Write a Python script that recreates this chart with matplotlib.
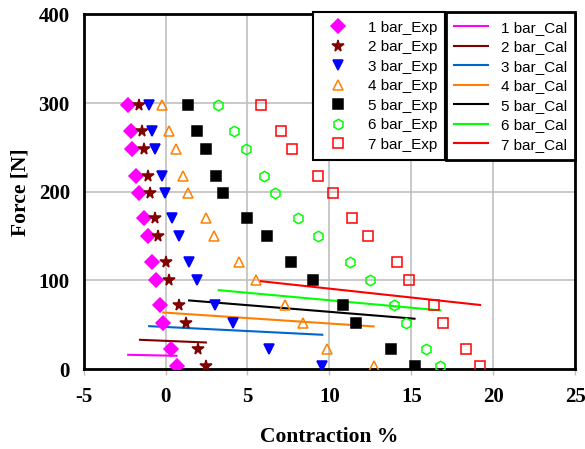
import numpy as np
import matplotlib.pyplot as plt

plt.rcParams['axes.unicode_minus'] = False

# force levels [N] shared by the experimental series
force = [298, 268, 248, 218, 199, 170, 150, 121, 101, 72, 52, 23, 4]

exp_1bar = [-2.32, -2.11, -2.03, -1.81, -1.65, -1.32, -1.06, -0.83, -0.61, -0.35, -0.14, 0.35, 0.71]
exp_2bar = [-1.61, -1.42, -1.32, -1.10, -0.96, -0.67, -0.45, 0.0, 0.24, 0.85, 1.26, 1.97, 2.46]
exp_3bar = [-1.02, -0.81, -0.65, -0.20, -0.02, 0.39, 0.81, 1.46, 1.89, 3.01, 4.09, 6.32, 9.57]
exp_4bar = [-0.20, 0.20, 0.65, 1.04, 1.36, 2.46, 2.95, 4.49, 5.53, 7.32, 8.39, 9.88, 12.70]
exp_5bar = [1.40, 1.93, 2.48, 3.07, 3.52, 4.98, 6.22, 7.66, 9.0, 10.85, 11.6, 13.78, 15.2]
exp_6bar = [3.23, 4.15, 4.90, 6.02, 6.71, 8.10, 9.31, 11.28, 12.46, 13.92, 14.65, 15.87, 16.78]
exp_7bar = [5.85, 7.07, 7.74, 9.29, 10.2, 11.38, 12.36, 14.1, 14.85, 16.36, 16.93, 18.35, 19.2]

# calculated lines: (x start, x end), (force start, force end)
cal_x = [(-2.28, 0.67), (-1.56, 2.46), (-1.0, 9.57), (-0.14, 12.70),
         (1.44, 15.2), (3.25, 16.77), (5.81, 19.2)]
cal_f = [(16.1, 15.0), (33.0, 30.0), (48.4, 38.7), (63.8, 48.1),
         (77.4, 56.8), (89.0, 66.2), (99.1, 72.3)]

labels = ['1 bar', '2 bar', '3 bar', '4 bar', '5 bar', '6 bar', '7 bar']
exp_all = [exp_1bar, exp_2bar, exp_3bar, exp_4bar, exp_5bar, exp_6bar, exp_7bar]

mk_color = ['#FF00FF', '#800000', '#0000FF', '#FF8000', '#000000', '#00FF00', '#FF0000']
ln_color = ['#FF00FF', '#800000', '#0066CC', '#FF8000', '#000000', '#00FF00', '#FF0000']
markers = ['D', '*', 'v', '^', 's', 'h', 's']
filled = [True, True, True, False, True, False, False]
msizes = [7, 8.5, 7.5, 7.5, 6.5, 7.5, 6.5]

fig = plt.figure(figsize=(5.85, 4.49), dpi=100)
ax = fig.add_axes([0.143, 0.178, 0.840, 0.790])

exp_handles = []
for i in range(7):
    fc = mk_color[i] if filled[i] else 'none'
    h, = ax.plot(exp_all[i], force, linestyle='none', marker=markers[i],
                 markersize=msizes[i], markerfacecolor=fc,
                 markeredgecolor=mk_color[i], markeredgewidth=1.1,
                 label=labels[i] + '_Exp', zorder=3)
    exp_handles.append(h)

cal_handles = []
for i in range(7):
    h, = ax.plot(cal_x[i], cal_f[i], color=ln_color[i], linewidth=1.5,
                 label=labels[i] + '_Cal', zorder=2)
    cal_handles.append(h)

ax.set_xlim(-5, 25)
ax.set_ylim(0, 400)
ax.set_xticks(np.arange(-5, 26, 5))
ax.set_yticks(np.arange(0, 401, 100))
ax.grid(True, color='#C0C0C0', linewidth=1.2)
ax.set_axisbelow(True)
for s in ax.spines.values():
    s.set_linewidth(2)
    s.set_color('black')
ax.tick_params(axis='x', direction='out', length=4, width=1, color='#C0C0C0', pad=9)
ax.tick_params(axis='y', length=0, pad=10)

for lab in ax.get_xticklabels() + ax.get_yticklabels():
    lab.set_fontfamily('Liberation Serif')
    lab.set_fontweight('bold')
    lab.set_fontsize(15)

ax.set_xlabel('Contraction %', fontfamily='Liberation Serif', fontweight='bold',
              fontsize=15.5, labelpad=14)
ax.set_ylabel('Force [N]', fontfamily='Liberation Serif', fontweight='bold',
              fontsize=15.5, labelpad=6)

leg_kw = dict(frameon=True, fancybox=False, edgecolor='black', framealpha=1,
              borderaxespad=0, labelspacing=0.36, borderpad=0.55,
              handlelength=2.2, prop={'family': 'Liberation Sans', 'size': 11})
leg1 = ax.legend(handles=exp_handles, loc='upper left',
                 bbox_to_anchor=(0.466, 1.006), handletextpad=0.85, **leg_kw)
leg1.get_frame().set_linewidth(1.5)
leg1.set_zorder(5)
ax.add_artist(leg1)
leg2 = ax.legend(handles=cal_handles, loc='upper right',
                 bbox_to_anchor=(1.0, 1.006), handletextpad=0.85, **leg_kw)
leg2.get_frame().set_linewidth(2)
leg2.set_zorder(4)

fig.savefig('out.png', dpi=100)
